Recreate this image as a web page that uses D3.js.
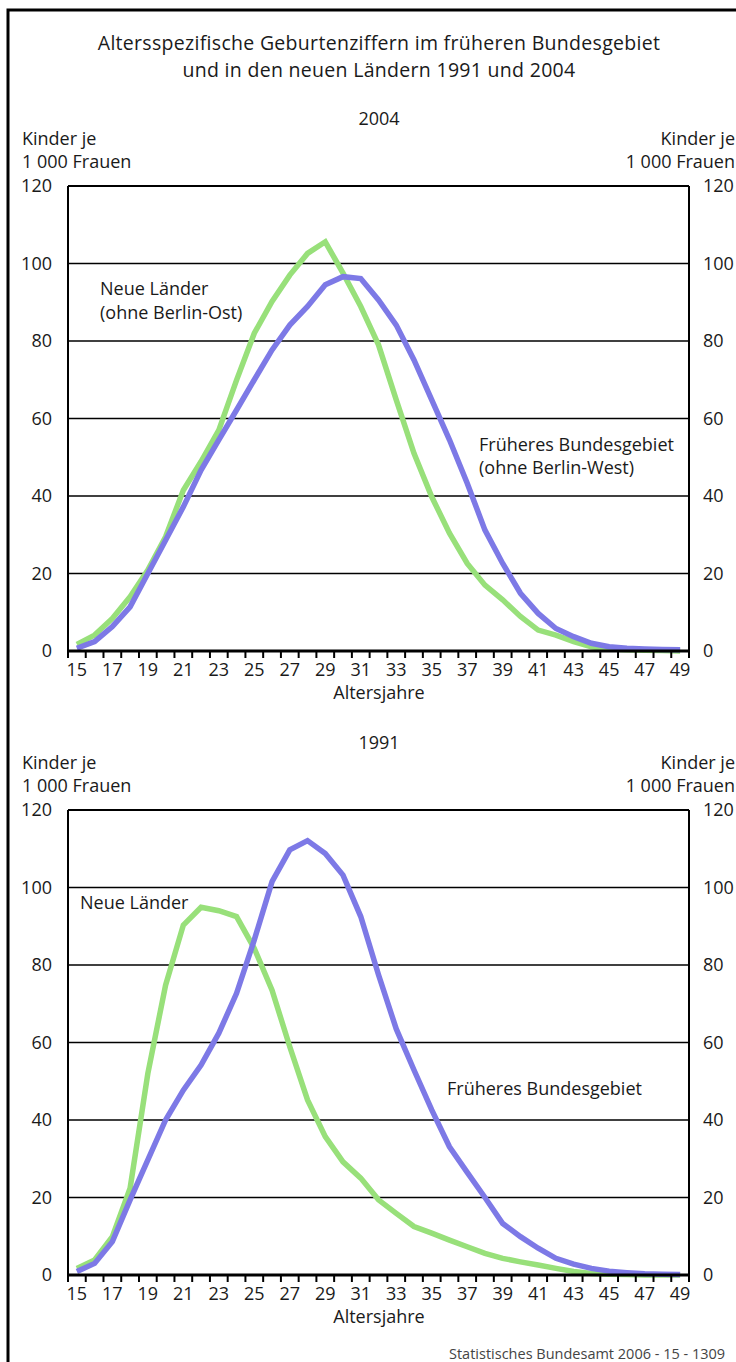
<!DOCTYPE html>
<html><head><meta charset="utf-8">
<script src="https://cdn.jsdelivr.net/npm/d3@7/dist/d3.min.js"></script>
<style>
html,body{margin:0;padding:0;background:#fff;overflow:hidden}
svg{display:block}
text{font-family:"Open Sans",Lato,sans-serif;fill:#1a1a1a}
</style></head>
<body>
<script>
const ages = d3.range(15, 50);
const tickLabels = ["15","17","19","21","23","25","27","29","31","33","35","37","39","41","43","45","47","49"];
const yTicks = [0,20,40,60,80,100,120];

// 2004
const neue2004 = [1.7,4.1,8.4,14,20.9,29.5,41.5,48.9,57,69.9,82,90.2,97,102.6,105.6,97.5,88.9,79,64.8,51,39.8,30.4,22.6,17,13.2,8.9,5.4,4.1,2.4,1.1,0.5,0.3,0.2,0.1,0];
const frueher2004 = [0.7,2.4,6.3,11.4,20,28.6,37.2,46.7,54.5,62.2,70,77.7,84.1,88.9,94.5,96.6,96.1,90.6,84.1,75.1,64.8,54.5,43.3,31.2,22.6,14.9,9.7,5.8,3.7,2.0,1.1,0.7,0.5,0.4,0.3];
// 1991
const neue1991 = [1.7,3.9,9.9,22.4,52,74.8,90.3,94.9,94.0,92.5,84.3,73.5,58.9,45.2,35.7,29.2,25.0,19.4,15.9,12.5,10.8,9.0,7.3,5.6,4.3,3.4,2.6,1.7,0.9,0.4,0.2,0.1,0,0,0];
const frueher1991 = [0.9,3.0,8.6,19.4,29.7,40,47.7,54.2,62.4,72.7,86.5,101.5,109.7,112.1,108.8,103.2,92.5,77.5,63.5,52.9,42.6,33.1,26.5,20,13.3,9.9,6.9,4.3,2.8,1.7,1.0,0.6,0.3,0.2,0.1];

const W = 736, H = 1362;
const svg = d3.select("body").append("svg").attr("width", W).attr("height", H);

// outer frame
svg.append("rect").attr("x", 8).attr("y", 10).attr("width", 800).attr("height", 1450)
  .attr("fill", "none").attr("stroke", "#000").attr("stroke-width", 3);

svg.append("text").attr("x", 379).attr("y", 50).attr("text-anchor", "middle")
  .style("font-size", "19.5px").style("font-weight", 500).style("letter-spacing", "0.3px")
  .text("Altersspezifische Geburtenziffern im früheren Bundesgebiet");
svg.append("text").attr("x", 379).attr("y", 77).attr("text-anchor", "middle")
  .style("font-size", "19.5px").style("font-weight", 500).style("letter-spacing", "0.3px")
  .text("und in den neuen Ländern 1991 und 2004");

const green = "#98E07A", blue = "#7D79E6";

function panel(top, year, seriesG, seriesB, labels) {
  const x = d3.scaleLinear().domain([14.5, 49.5]).range([68, 689]);
  const y = d3.scaleLinear().domain([0, 120]).range([top + 465, top]);
  const g = svg.append("g");
  const fs = "18px";

  g.append("text").attr("x", 379).attr("y", top - 61).attr("text-anchor", "middle").style("font-size", fs).text(year);
  g.append("text").attr("x", 22).attr("y", top - 41).style("font-size", fs).text("Kinder je");
  g.append("text").attr("x", 22).attr("y", top - 18).style("font-size", fs).text("1 000 Frauen");
  g.append("text").attr("x", 735).attr("y", top - 41).attr("text-anchor", "end").style("font-size", fs).text("Kinder je");
  g.append("text").attr("x", 735).attr("y", top - 18).attr("text-anchor", "end").style("font-size", fs).text("1 000 Frauen");

  // gridlines
  g.append("g").selectAll("line").data(yTicks.filter(d => d > 0)).join("line")
    .attr("x1", x(14.5)).attr("x2", x(49.5)).attr("y1", d => y(d)).attr("y2", d => y(d))
    .attr("stroke", "#000").attr("stroke-width", d => d === 120 ? 2 : 1.6);
  // side borders
  g.append("line").attr("x1", x(14.5)).attr("x2", x(14.5)).attr("y1", y(120)).attr("y2", y(0)).attr("stroke", "#000").attr("stroke-width", 2);
  g.append("line").attr("x1", x(49.5)).attr("x2", x(49.5)).attr("y1", y(120)).attr("y2", y(0)).attr("stroke", "#000").attr("stroke-width", 2);

  // y labels
  g.append("g").selectAll("text").data(yTicks).join("text")
    .attr("x", 52).attr("y", d => y(d)).attr("dy", "0.36em").attr("text-anchor", "end").style("font-size", fs).text(d => d);
  g.append("g").selectAll("text").data(yTicks).join("text")
    .attr("x", 703).attr("y", d => y(d)).attr("dy", "0.36em").attr("text-anchor", "start").style("font-size", fs).text(d => d);

  // lines
  const line = d3.line().x((d, i) => x(ages[i])).y(d => y(d));
  g.append("path").datum(seriesG).attr("d", line).attr("fill", "none").attr("stroke", green).attr("stroke-width", 5.5).attr("stroke-linejoin", "miter");
  g.append("path").datum(seriesB).attr("d", line).attr("fill", "none").attr("stroke", blue).attr("stroke-width", 5.5).attr("stroke-linejoin", "miter");

  // x axis
  const ax = g.append("g").attr("transform", `translate(0,${y(0)})`);
  ax.append("line").attr("x1", x(14.5) - 1).attr("x2", x(49.5) + 1).attr("stroke", "#000").attr("stroke-width", 3);
  ax.selectAll("line.t").data(d3.range(14.5, 50, 1)).join("line").attr("class", "t")
    .attr("x1", d => x(d)).attr("x2", d => x(d)).attr("y1", 0).attr("y2", 7).attr("stroke", "#000").attr("stroke-width", 2);
  ax.selectAll("text").data(tickLabels).join("text")
    .attr("x", d => x(+d)).attr("y", 25).attr("text-anchor", "middle").style("font-size", fs).text(d => d);
  ax.append("text").attr("x", 379).attr("y", 48).attr("text-anchor", "middle").style("font-size", fs).text("Altersjahre");

  labels.forEach(l => {
    g.append("text").attr("x", l.x).attr("y", y(l.v)).style("font-size", fs).text(l.t);
  });
}

panel(186, "2004", neue2004, frueher2004, [
  {x: 100, v: 92, t: "Neue Länder"},
  {x: 100, v: 85.8, t: "(ohne Berlin-Ost)"},
  {x: 479, v: 51.5, t: "Früheres Bundesgebiet"},
  {x: 479, v: 45.6, t: "(ohne Berlin-West)"}
]);
panel(810, "1991", neue1991, frueher1991, [
  {x: 80, v: 94.5, t: "Neue Länder"},
  {x: 447, v: 46.5, t: "Früheres Bundesgebiet"}
]);

svg.append("text").attr("x", 449).attr("y", 1359).style("font-size", "14.5px").style("fill", "#444")
  .text("Statistisches Bundesamt 2006 - 15 - 1309");
</script>
</body></html>
